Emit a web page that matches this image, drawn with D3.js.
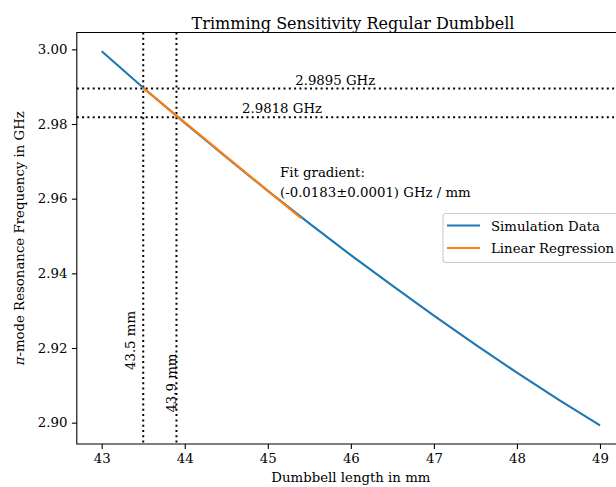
<!DOCTYPE html>
<html><head><meta charset="utf-8">
<script src="https://cdn.jsdelivr.net/npm/d3@7"></script>
<style>
body{margin:0;background:#fff;}
svg{display:block;font-family:"DejaVu Serif",serif;}
</style></head>
<body><svg id="c" width="616" height="487"></svg>
<script>
// ---- data ----
const simLength = [43.0,43.5,44.0,44.5,45.0,45.5,46.0,46.5,47.0,47.5,48.0,48.5,49.0];
const simFreq   = [2.9995,2.9897,2.9803,2.9711,2.9621,2.9534,2.9449,2.9367,2.9287,2.9209,2.9134,2.9062,2.8993];
const fitLength = [43.5,45.4];
const fitFreq   = [2.9896,2.9548];
const markLength = [43.5,43.9];
const markFreq   = [2.9895,2.9818];
const xTicks = [43,44,45,46,47,48,49];
const yTicks = [2.90,2.92,2.94,2.96,2.98,3.00];
const seriesNames = ["Simulation Data","Linear Regression"];
const colors = ["#1f77b4","#ff7f0e"];

const svg = d3.select("#c");
const L=76.8, R=624.9, T=32.5, B=444;
const xmin=d3.min(simLength), xmax=d3.max(simLength);
const ymin=d3.min(simFreq), ymax=d3.max(simFreq);
const xm=(xmax-xmin)*0.05, ym=(ymax-ymin)*0.05;
const x=d3.scaleLinear().domain([xmin-xm,xmax+xm]).range([L,R]);
const y=d3.scaleLinear().domain([ymin-ym,ymax+ym]).range([B,T]);

svg.append("defs").append("clipPath").attr("id","clip")
  .append("rect").attr("x",L).attr("y",T).attr("width",R-L).attr("height",B-T);

const g=svg.append("g").attr("clip-path","url(#clip)");

// dotted markers
g.selectAll("line.v").data(markLength).join("line")
  .attr("x1",d=>x(d)).attr("x2",d=>x(d)).attr("y1",T).attr("y2",B)
  .attr("stroke","#000").attr("stroke-width",2).attr("stroke-dasharray","2,3.3");
g.selectAll("line.h").data(markFreq).join("line")
  .attr("y1",d=>y(d)).attr("y2",d=>y(d)).attr("x1",L).attr("x2",R)
  .attr("stroke","#000").attr("stroke-width",2).attr("stroke-dasharray","2,3.3");

const line=d3.line().x(d=>x(d[0])).y(d=>y(d[1]));
g.append("path").datum(d3.zip(simLength,simFreq)).attr("d",line)
  .attr("fill","none").attr("stroke",colors[0]).attr("stroke-width",2.1);
g.append("path").datum(d3.zip(fitLength,fitFreq)).attr("d",line)
  .attr("fill","none").attr("stroke",colors[1]).attr("stroke-width",2.1);

// axes
const fs=13.3;
const xa=svg.append("g").attr("transform",`translate(0,${B})`)
  .call(d3.axisBottom(x).tickValues(xTicks).tickSize(4.9).tickPadding(4.5).tickFormat(d3.format("d")));
const ya=svg.append("g").attr("transform",`translate(${L},0)`)
  .call(d3.axisLeft(y).tickValues(yTicks).tickSize(4.9).tickPadding(4.5).tickFormat(d3.format(".2f")));
[xa,ya].forEach(a=>{
  a.select(".domain").remove();
  a.selectAll("line").attr("stroke","#000").attr("stroke-width",1.1);
  a.selectAll("text").attr("font-family","DejaVu Serif").attr("font-size",fs).attr("fill","#000");
});
// spines
svg.append("path").attr("d",`M${R},${B}H${L}V${T}H${R}`)
  .attr("fill","none").attr("stroke","#000").attr("stroke-width",1.1);

// annotations
svg.append("text").attr("x",x(45.33)).attr("y",y(markFreq[0])-4).attr("font-size",fs).text(markFreq[0].toFixed(4)+" GHz");
svg.append("text").attr("x",x(44.69)).attr("y",y(markFreq[1])-4).attr("font-size",fs).text(markFreq[1].toFixed(4)+" GHz");
[markLength[0],markLength[1]].forEach((m,i)=>{
  const px=[x(43.395),x(43.89)][i], py=[y(2.9141),y(2.9027)][i];
  svg.append("text").attr("transform",`translate(${px},${py}) rotate(-90)`)
    .attr("font-size",fs).text(m.toFixed(1)+" mm");
});
svg.append("text").attr("x",x(45.147)).attr("y",176.5).attr("font-size",fs).text("Fit gradient:");
svg.append("text").attr("x",x(45.147)).attr("y",197).attr("font-size",fs).text("(-0.0183\u00b10.0001) GHz / mm");

// title & labels
svg.append("text").attr("x",353).attr("y",29).attr("text-anchor","middle").attr("font-size",16).text("Trimming Sensitivity Regular Dumbbell");
svg.append("text").attr("x",(L+R)/2).attr("y",482).attr("text-anchor","middle").attr("font-size",fs).text("Dumbbell length in mm");
const yl=svg.append("text").attr("transform",`translate(23.5,${(T+B)/2}) rotate(-90)`).attr("text-anchor","middle").attr("font-size",fs);
yl.append("tspan").attr("font-style","italic").text("\u03c0");
yl.append("tspan").text("-mode Resonance Frequency in GHz");

// legend
const lg=svg.append("g");
lg.append("rect").attr("x",443).attr("y",213.5).attr("width",200).attr("height",49).attr("rx",3)
  .attr("fill","#fff").attr("fill-opacity",0.8).attr("stroke","#ccc").attr("stroke-width",1.1);
seriesNames.forEach((n,i)=>{
  const yy=225.5+i*22.5;
  lg.append("line").attr("x1",447).attr("x2",480).attr("y1",yy).attr("y2",yy).attr("stroke",colors[i]).attr("stroke-width",2.1);
  lg.append("text").attr("x",491).attr("y",yy+5).attr("font-size",fs).text(n);
});
</script></body></html>
